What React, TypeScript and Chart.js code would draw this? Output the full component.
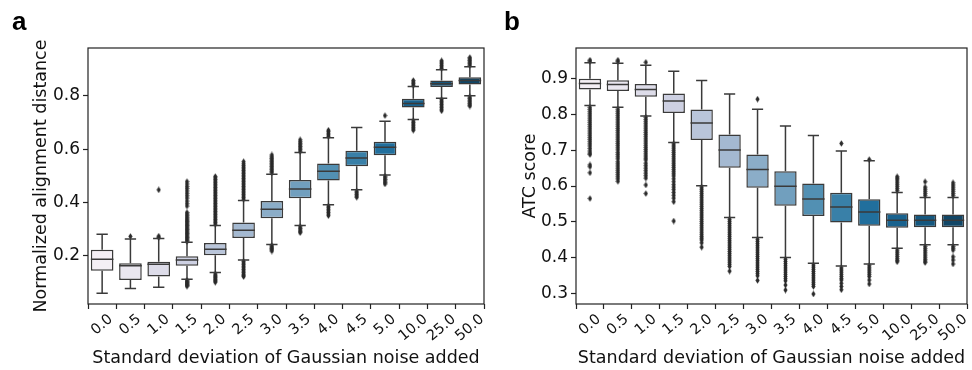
import React, { useEffect, useRef } from 'react';
import { Chart, registerables } from 'chart.js';

Chart.register(...registerables);

// ---------- shared ----------
const categories = ['0.0', '0.5', '1.0', '1.5', '2.0', '2.5', '3.0', '3.5', '4.0', '4.5', '5.0', '10.0', '25.0', '50.0'];
const boxColors = [
  '#f4eff5', '#eae7f0', '#dddce9', '#cdd0e2', '#b9c5da', '#a4b9d1', '#8badc8',
  '#719fbe', '#5290b3', '#3980a8', '#216f9d', '#19628e', '#15577e', '#114666',
];
const xTitle = 'Standard deviation of Gaussian noise added';

// ---------- panel a ----------
const aYTitle = 'Normalized alignment distance';
const aYTicks = [0.2, 0.4, 0.6, 0.8];
const aWhiskerLow = [0.058, 0.076, 0.081, 0.111, 0.136, 0.183, 0.242, 0.313, 0.391, 0.447, 0.503, 0.711, 0.791, 0.801];
const aQ1 = [0.143, 0.108, 0.121, 0.162, 0.201, 0.266, 0.340, 0.415, 0.482, 0.536, 0.577, 0.756, 0.833, 0.843];
const aMedian = [0.186, 0.162, 0.167, 0.183, 0.224, 0.295, 0.374, 0.450, 0.517, 0.567, 0.607, 0.771, 0.846, 0.858];
const aQ3 = [0.222, 0.171, 0.177, 0.197, 0.247, 0.324, 0.405, 0.484, 0.546, 0.594, 0.628, 0.789, 0.858, 0.870];
const aWhiskerHigh = [0.280, 0.262, 0.264, 0.250, 0.313, 0.407, 0.506, 0.587, 0.643, 0.681, 0.705, 0.835, 0.898, 0.910];
const aOutliers: number[][] = [
  [],
  [0.272],
  [0.268, 0.273, 0.447],
  [0.085, 0.088, 0.091, 0.095, 0.099, 0.103, 0.107,
    0.254, 0.258, 0.263, 0.268, 0.273, 0.278, 0.283, 0.288, 0.293, 0.298, 0.303, 0.308, 0.313, 0.318, 0.323,
    0.328, 0.333, 0.338, 0.344, 0.35, 0.356, 0.362, 0.386, 0.395, 0.405, 0.416, 0.425, 0.434, 0.443, 0.452,
    0.46, 0.469, 0.478],
  [0.1, 0.104, 0.108, 0.112, 0.117, 0.121, 0.126, 0.131,
    0.318, 0.324, 0.33, 0.336, 0.342, 0.348, 0.354, 0.36, 0.366, 0.372, 0.378, 0.384, 0.39, 0.396, 0.402,
    0.408, 0.414, 0.42, 0.426, 0.432, 0.438, 0.444, 0.45, 0.456, 0.462, 0.468, 0.474, 0.48, 0.486, 0.492, 0.497],
  [0.121, 0.125, 0.13, 0.136, 0.142, 0.148, 0.154, 0.16, 0.166, 0.172, 0.178,
    0.412, 0.418, 0.424, 0.43, 0.436, 0.442, 0.448, 0.454, 0.46, 0.466, 0.472, 0.478, 0.484, 0.49, 0.496,
    0.502, 0.508, 0.514, 0.52, 0.526, 0.532, 0.538, 0.545, 0.553],
  [0.217, 0.222, 0.227, 0.232, 0.237,
    0.511, 0.517, 0.523, 0.529, 0.535, 0.541, 0.547, 0.553, 0.559, 0.565, 0.571, 0.578],
  [0.286, 0.29, 0.296, 0.302, 0.308,
    0.592, 0.598, 0.604, 0.61, 0.616, 0.622, 0.628, 0.635],
  [0.35, 0.356, 0.362, 0.368, 0.374, 0.38, 0.386,
    0.648, 0.654, 0.66, 0.666, 0.671],
  [0.419, 0.424, 0.43, 0.436, 0.442],
  [0.469, 0.474, 0.48, 0.486, 0.492, 0.498, 0.726],
  [0.671, 0.676, 0.682, 0.688, 0.694, 0.7, 0.706, 0.84, 0.846, 0.852, 0.858],
  [0.744, 0.75, 0.756, 0.762, 0.768, 0.774, 0.78, 0.786, 0.903, 0.909, 0.915, 0.921, 0.927, 0.932],
  [0.762, 0.766, 0.772, 0.778, 0.784, 0.79, 0.796, 0.915, 0.921, 0.927, 0.933, 0.939, 0.944],
];

// ---------- panel b ----------
const bYTitle = 'ATC score';
const bYTicks = [0.3, 0.4, 0.5, 0.6, 0.7, 0.8, 0.9];
const bWhiskerLow = [0.825, 0.820, 0.796, 0.722, 0.601, 0.512, 0.456, 0.400, 0.384, 0.376, 0.382, 0.426, 0.436, 0.436];
const bQ1 = [0.870, 0.866, 0.850, 0.804, 0.729, 0.651, 0.595, 0.545, 0.516, 0.498, 0.489, 0.483, 0.485, 0.485];
const bMedian = [0.887, 0.884, 0.870, 0.838, 0.776, 0.701, 0.646, 0.599, 0.564, 0.541, 0.527, 0.504, 0.504, 0.504];
const bQ3 = [0.900, 0.896, 0.885, 0.859, 0.814, 0.744, 0.688, 0.641, 0.607, 0.581, 0.563, 0.524, 0.520, 0.520];
const bWhiskerHigh = [0.945, 0.943, 0.938, 0.921, 0.895, 0.857, 0.815, 0.768, 0.741, 0.698, 0.671, 0.582, 0.568, 0.568];
const bOutliers: number[][] = [
  [0.949, 0.952,
    0.82, 0.814, 0.808, 0.802, 0.796, 0.79, 0.784, 0.778, 0.772, 0.766, 0.76, 0.754, 0.748, 0.742, 0.736,
    0.73, 0.724, 0.718, 0.712, 0.705, 0.698, 0.692, 0.688, 0.659, 0.654, 0.637, 0.565],
  [0.948, 0.952,
    0.815, 0.809, 0.803, 0.797, 0.791, 0.785, 0.779, 0.773, 0.767, 0.761, 0.755, 0.749, 0.743, 0.737, 0.731,
    0.725, 0.719, 0.713, 0.707, 0.701, 0.694, 0.688, 0.682, 0.676, 0.668, 0.662, 0.656, 0.65, 0.644, 0.638,
    0.632, 0.626, 0.62, 0.613],
  [0.946,
    0.792, 0.786, 0.78, 0.774, 0.768, 0.762, 0.756, 0.75, 0.744, 0.738, 0.732, 0.726, 0.72, 0.714, 0.708,
    0.702, 0.696, 0.69, 0.684, 0.678, 0.673, 0.664, 0.657, 0.65, 0.643, 0.636, 0.629, 0.622, 0.603, 0.579],
  [0.718, 0.712, 0.706, 0.7, 0.694, 0.688, 0.682, 0.676, 0.67, 0.664, 0.658, 0.652, 0.646, 0.64, 0.634,
    0.628, 0.62, 0.612, 0.604, 0.597, 0.59, 0.582, 0.574, 0.566, 0.556, 0.502],
  [0.597, 0.591, 0.585, 0.579, 0.573, 0.567, 0.561, 0.555, 0.549, 0.543, 0.537, 0.531, 0.525, 0.519, 0.513,
    0.507, 0.501, 0.495, 0.489, 0.483, 0.477, 0.471, 0.465, 0.459, 0.454, 0.449, 0.441, 0.429],
  [0.507, 0.501, 0.495, 0.489, 0.483, 0.477, 0.471, 0.465, 0.459, 0.453, 0.447, 0.441, 0.435, 0.429, 0.423,
    0.417, 0.411, 0.405, 0.399, 0.393, 0.387, 0.381, 0.375, 0.362],
  [0.843,
    0.451, 0.445, 0.439, 0.433, 0.427, 0.421, 0.415, 0.409, 0.403, 0.397, 0.391, 0.385, 0.379, 0.373, 0.367,
    0.361, 0.355, 0.349, 0.336],
  [0.395, 0.389, 0.383, 0.377, 0.371, 0.365, 0.359, 0.353, 0.347, 0.341, 0.335, 0.323, 0.309],
  [0.379, 0.373, 0.367, 0.361, 0.355, 0.349, 0.343, 0.337, 0.331, 0.325, 0.319, 0.298],
  [0.719, 0.371, 0.365, 0.359, 0.353, 0.347, 0.341, 0.337, 0.328, 0.319, 0.31],
  [0.674, 0.377, 0.371, 0.365, 0.359, 0.353, 0.347, 0.337, 0.326],
  [0.587, 0.593, 0.599, 0.605, 0.611, 0.617, 0.622, 0.626,
    0.421, 0.415, 0.409, 0.403, 0.397, 0.392, 0.388],
  [0.573, 0.579, 0.585, 0.591, 0.597, 0.612,
    0.431, 0.425, 0.419, 0.413, 0.407, 0.401, 0.395, 0.39, 0.386],
  [0.573, 0.579, 0.585, 0.591, 0.597, 0.603, 0.609,
    0.431, 0.426, 0.421, 0.402, 0.393, 0.382],
];

// ---------- drawing helpers ----------
const LINE = '#3a3a3a';
const TEXT = '#111111';
const FONT = '"DejaVu Sans", sans-serif';
const TITLE_SIZE = 17.5;
const YTICK_SIZE = 17;
const XTICK_SIZE = 14.5;

function makeDiamond(): HTMLCanvasElement {
  const c = document.createElement('canvas');
  c.width = 5;
  c.height = 7;
  const g = c.getContext('2d')!;
  g.fillStyle = '#2a2a2a';
  g.beginPath();
  g.moveTo(2.5, 0.3);
  g.lineTo(4.6, 3.5);
  g.lineTo(2.5, 6.7);
  g.lineTo(0.4, 3.5);
  g.closePath();
  g.fill();
  return c;
}

interface PanelSpec {
  letter: string;
  yTitle: string;
  yTitleX: number;
  yTicks: number[];
  yMin: number;
  yMax: number;
  low: number[];
  q1: number[];
  med: number[];
  q3: number[];
  high: number[];
  outliers: number[][];
  canvasWidth: number;
  yAxisWidth: number;
  padRight: number;
  letterX: number;
}

const BOX_DS = 1; // index of the box (bar) dataset

function buildChart(canvas: HTMLCanvasElement, p: PanelSpec) {
  const outlierPoints: { x: string; y: number }[] = [];
  p.outliers.forEach((arr, i) => arr.forEach((v) => outlierPoints.push({ x: categories[i], y: v })));
  const diamond = makeDiamond();

  const boxPlugin = {
    id: 'boxDecor' + p.letter,
    beforeDatasetsDraw(chart: any) {
      const ctx = chart.ctx;
      const ys = chart.scales.y;
      const meta = chart.getDatasetMeta(BOX_DS);
      ctx.save();
      ctx.strokeStyle = LINE;
      ctx.lineWidth = 1.5;
      meta.data.forEach((el: any, i: number) => {
        const { x } = el.getProps(['x'], true);
        ctx.beginPath();
        ctx.moveTo(x, ys.getPixelForValue(p.q1[i]));
        ctx.lineTo(x, ys.getPixelForValue(p.low[i]));
        ctx.moveTo(x, ys.getPixelForValue(p.q3[i]));
        ctx.lineTo(x, ys.getPixelForValue(p.high[i]));
        ctx.stroke();
      });
      ctx.restore();
    },
    afterDatasetsDraw(chart: any) {
      const ctx = chart.ctx;
      const ys = chart.scales.y;
      const meta = chart.getDatasetMeta(BOX_DS);
      ctx.save();
      ctx.strokeStyle = LINE;
      ctx.lineWidth = 1.5;
      meta.data.forEach((el: any, i: number) => {
        const { x, width } = el.getProps(['x', 'width'], true);
        const half = width / 2;
        const cap = width / 4;
        const ym = ys.getPixelForValue(p.med[i]);
        ctx.beginPath();
        ctx.moveTo(x - half, ym);
        ctx.lineTo(x + half, ym);
        const yl = ys.getPixelForValue(p.low[i]);
        const yh = ys.getPixelForValue(p.high[i]);
        ctx.moveTo(x - cap, yl);
        ctx.lineTo(x + cap, yl);
        ctx.moveTo(x - cap, yh);
        ctx.lineTo(x + cap, yh);
        ctx.stroke();
      });
      ctx.restore();
    },
    afterDraw(chart: any) {
      const ctx = chart.ctx;
      const area = chart.chartArea;
      const xs = chart.scales.x;
      ctx.save();
      // frame
      ctx.strokeStyle = '#222';
      ctx.lineWidth = 1.2;
      ctx.strokeRect(area.left, area.top, area.right - area.left, area.bottom - area.top);
      // x tick labels (rotated, centred under the tick)
      ctx.fillStyle = TEXT;
      ctx.font = XTICK_SIZE + 'px ' + FONT;
      const ang = (40 * Math.PI) / 180;
      const lineH = XTICK_SIZE * 1.17;
      categories.forEach((lab, i) => {
        const x = xs.getPixelForTick(i);
        const w = ctx.measureText(lab).width;
        const H = w * Math.sin(ang) + lineH * Math.cos(ang);
        const cy = area.bottom + 7 + H / 2;
        ctx.save();
        ctx.translate(x, cy);
        ctx.rotate(-ang);
        ctx.textAlign = 'center';
        ctx.textBaseline = 'middle';
        ctx.fillText(lab, 0, 0);
        ctx.restore();
      });
      // x title
      ctx.font = TITLE_SIZE + 'px ' + FONT;
      ctx.textAlign = 'center';
      ctx.textBaseline = 'alphabetic';
      ctx.fillText(xTitle, (area.left + area.right) / 2, 363);
      // y title
      ctx.save();
      ctx.translate(p.yTitleX, (area.top + area.bottom) / 2);
      ctx.rotate(-Math.PI / 2);
      ctx.textAlign = 'center';
      ctx.textBaseline = 'alphabetic';
      ctx.fillText(p.yTitle, 0, 0);
      ctx.restore();
      // panel letter
      ctx.font = 'bold 26px "Liberation Sans", Arial, sans-serif';
      ctx.textAlign = 'left';
      ctx.fillStyle = '#000';
      ctx.fillText(p.letter, p.letterX, 30);
      ctx.restore();
    },
  };

  return new Chart(canvas, {
    type: 'bar',
    data: {
      labels: categories,
      datasets: [
        {
          type: 'scatter',
          data: outlierPoints as any,
          pointStyle: diamond as any,
          pointRadius: 3,
          order: 0,
        } as any,
        {
          type: 'bar',
          data: p.q1.map((v, i) => [v, p.q3[i]]) as any,
          backgroundColor: boxColors,
          borderColor: LINE,
          borderWidth: 1.5,
          borderSkipped: false,
          barPercentage: 0.8,
          categoryPercentage: 1.0,
          order: 1,
        },
      ],
    },
    options: {
      responsive: false,
      maintainAspectRatio: false,
      animation: false,
      devicePixelRatio: 1,
      events: [],
      layout: { padding: { left: 0, right: p.padRight, top: 48, bottom: 0 } },
      plugins: { legend: { display: false }, tooltip: { enabled: false } },
      scales: {
        x: {
          type: 'category',
          offset: true,
          grid: { display: true, drawOnChartArea: false, drawTicks: true, tickLength: 5, color: '#222', tickWidth: 1.2 },
          border: { display: false },
          ticks: { display: false },
          afterFit: (s: any) => {
            s.height = 66;
          },
        },
        y: {
          type: 'linear',
          min: p.yMin,
          max: p.yMax,
          afterBuildTicks: (s: any) => {
            s.ticks = p.yTicks.map((v) => ({ value: v }));
          },
          ticks: {
            color: TEXT,
            font: { family: FONT, size: YTICK_SIZE },
            padding: 3,
            callback: (v: any) => Number(v).toFixed(1),
          },
          grid: { display: true, drawOnChartArea: false, drawTicks: true, tickLength: 5, color: '#222', tickWidth: 1.2 },
          border: { display: false },
          afterFit: (s: any) => {
            s.width = p.yAxisWidth;
          },
        },
      },
    } as any,
    plugins: [boxPlugin],
  });
}

function Panel({ spec, left }: { spec: PanelSpec; left: number }) {
  const ref = useRef<HTMLCanvasElement>(null);
  useEffect(() => {
    if (!ref.current) return;
    const chart = buildChart(ref.current, spec);
    return () => chart.destroy();
  }, []);
  return (
    <canvas
      ref={ref}
      width={spec.canvasWidth}
      height={370}
      style={{ position: 'absolute', left, top: 0, width: spec.canvasWidth, height: 370 }}
    />
  );
}

const specA: PanelSpec = {
  letter: 'a',
  yTitle: aYTitle,
  yTitleX: 46,
  yTicks: aYTicks,
  yMin: 0.018,
  yMax: 0.98,
  low: aWhiskerLow,
  q1: aQ1,
  med: aMedian,
  q3: aQ3,
  high: aWhiskerHigh,
  outliers: aOutliers,
  canvasWidth: 490,
  yAxisWidth: 88,
  padRight: 6,
  letterX: 12,
};

const specB: PanelSpec = {
  letter: 'b',
  yTitle: bYTitle,
  yTitleX: 44.5,
  yTicks: bYTicks,
  yMin: 0.27,
  yMax: 0.986,
  low: bWhiskerLow,
  q1: bQ1,
  med: bMedian,
  q3: bQ3,
  high: bWhiskerHigh,
  outliers: bOutliers,
  canvasWidth: 482,
  yAxisWidth: 86,
  padRight: 1,
  letterX: 14,
};

export default function App() {
  return (
    <div
      style={{
        position: 'absolute',
        left: 0,
        top: 0,
        width: 972,
        height: 370,
        background: '#ffffff',
        overflow: 'hidden',
      }}
    >
      <Panel spec={specA} left={0} />
      <Panel spec={specB} left={490} />
    </div>
  );
}
